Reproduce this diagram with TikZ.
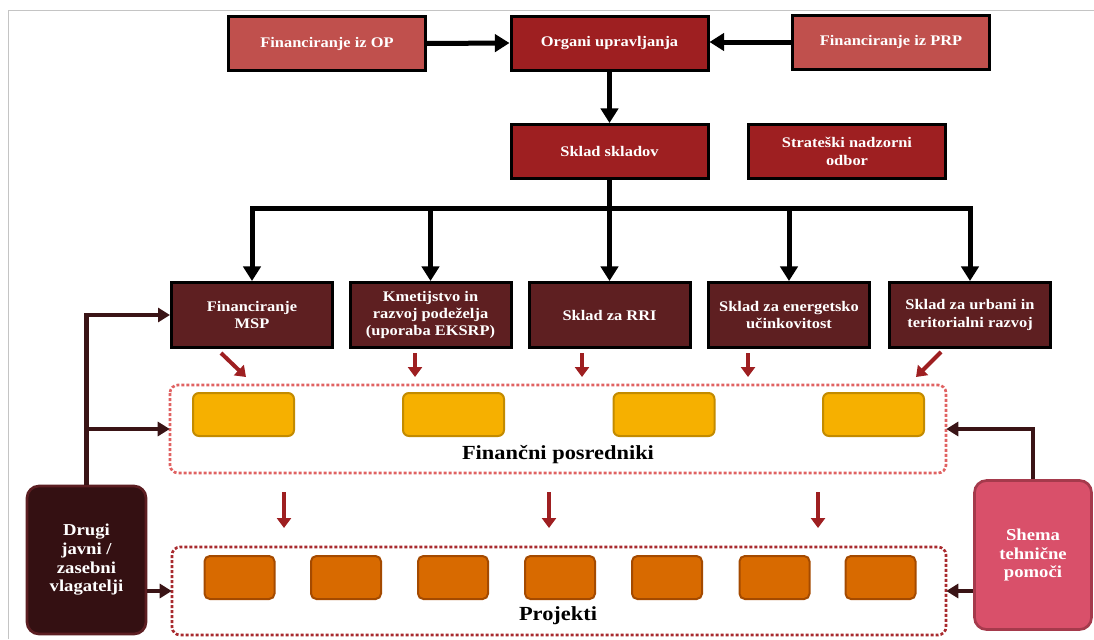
\documentclass[tikz,border=0pt]{standalone}
\usepackage{fontspec}
\setmainfont{Liberation Serif}[FakeStretch=1.12]
\usetikzlibrary{arrows.meta}
\definecolor{fund}{HTML}{C0504D}
\definecolor{mgmt}{HTML}{9E1F21}
\definecolor{fundb}{HTML}{5E1F21}
\definecolor{yel}{HTML}{F6B000}
\definecolor{yelb}{HTML}{C38B00}
\definecolor{ora}{HTML}{D86A00}
\definecolor{orab}{HTML}{A44A00}
\definecolor{inv}{HTML}{341012}
\definecolor{invb}{HTML}{5C1E22}
\definecolor{tas}{HTML}{D9506A}
\definecolor{tasb}{HTML}{A53A4C}
\definecolor{redarr}{HTML}{9E1F21}
\definecolor{fpline}{HTML}{E06262}
\definecolor{prline}{HTML}{A82A2E}
\definecolor{conn}{HTML}{3A1416}
\definecolor{frame}{HTML}{C4C4C4}
\newcommand\pxu[1]{#1*0.75pt}
\newcommand\boxfont{\fontsize{11}{13}\selectfont\bfseries}
\newcommand\sidefont{\fontsize{12.5}{14}\selectfont\bfseries}
\newcommand\labfont{\fontsize{15}{17}\selectfont\bfseries}
\begin{document}
\begin{tikzpicture}[x=0.75pt,y=-0.75pt,
  box/.style={draw=black, line width=2.25pt, text=white, font=\boxfont, align=center, inner sep=0pt},
  topbox/.style={box, minimum width=\pxu{197}, minimum height=\pxu{54}},
  midbox/.style={box, fill=fundb, minimum width=\pxu{161}, minimum height=\pxu{65}},
  ybox/.style={draw=yelb, fill=yel, line width=1.5pt, rounded corners=4.5pt, minimum width=\pxu{101}, minimum height=\pxu{43}},
  obox/.style={draw=orab, fill=ora, line width=1.5pt, rounded corners=4pt, minimum width=\pxu{70}, minimum height=\pxu{43}},
  container/.style={line width=2pt, dash pattern=on 2.25pt off 1.5pt, rounded corners=6pt},
  barrow/.style={line width=3.75pt, draw=black, -{Triangle[width=13pt,length=11pt]}},
  bline/.style={line width=3.75pt, draw=black},
  rarrow/.style={line width=3pt, draw=redarr, -{Triangle[width=10.5pt,length=7.5pt]}},
  carrow/.style={line width=3.2pt, draw=conn, -{Triangle[width=10.5pt,length=9pt]}},
  sidebox/.style={line width=2pt, text=white, font=\sidefont, align=center, inner sep=0pt, rounded corners=9pt},
  lab/.style={font=\labfont, text=black, inner sep=0pt}
]
\useasboundingbox (0,0) rectangle (1094,639);
% frame
\draw[frame, line width=0.75pt] (8,639) -- (8,10) -- (1094,10);

% top row
\node[topbox, fill=fund] (fop) at (327,43.5) {Financiranje iz OP};
\node[topbox, fill=mgmt] (org) at (609.5,43) {Organi upravljanja};
\node[topbox, fill=fund] (fprp) at (891,42) {Financiranje iz PRP};
% second row
\node[topbox, fill=mgmt] (sks) at (609.5,151.5) {Sklad skladov};
\node[topbox, fill=mgmt] (snd) at (847,151.5) {Strateški nadzorni\\odbor};
% third row
\node[midbox] (b1) at (252,315) {Financiranje\\MSP};
\node[midbox] (b2) at (430.5,315) {Kmetijstvo in\\razvoj podeželja\\(uporaba EKSRP)};
\node[midbox] (b3) at (609.5,315) {Sklad za RRI};
\node[midbox] (b4) at (789,315) {Sklad za energetsko\\učinkovitost};
\node[midbox] (b5) at (970,315) {Sklad za urbani in\\teritorialni razvoj};

% top arrows
\draw[barrow] (fop.east) -- (org.west);
\draw[barrow] (fprp.west) -- (org.east |- fprp.west);
\draw[barrow] (org.south) -- (sks.north);
% bus
\coordinate (busy) at (0,208);
\draw[bline] (sks.south) -- (sks.south |- busy);
\draw[bline, line cap=rect] (b1.north |- busy) -- (b5.north |- busy);
\foreach \b in {b1,b2,b3,b4,b5}{
  \draw[barrow] (\b.north |- busy) -- (\b.north);
}

% containers
\draw[container, draw=fpline] (170,385) rectangle (946,473);
\node (fp) at (558,429) [minimum width=\pxu{776}, minimum height=\pxu{88}, inner sep=0pt] {};
\node[lab] (fplab) at (558,455) {Finančni posredniki};
\draw[container, draw=prline] (172,547) rectangle (946,635);
\node (pr) at (559,591) [minimum width=\pxu{774}, minimum height=\pxu{88}, inner sep=0pt] {};
\node[lab] (prlab) at (558,616) {Projekti};

% intermediaries
\foreach \x [count=\i] in {243.5,453.5,664,873.5}{
  \node[ybox] (y\i) at (\x,414.5) {};
}
% projects
\foreach \x [count=\i] in {239.5,346,453,560,667,774.5,880.5}{
  \node[obox] (o\i) at (\x,577.5) {};
}

% red arrows to intermediaries
\coordinate (r1a) at (221,353); \coordinate (r1b) at (246,377);
\coordinate (r2a) at (415,353); \coordinate (r2b) at (415,377);
\coordinate (r3a) at (582,353); \coordinate (r3b) at (582,377);
\coordinate (r4a) at (748,353); \coordinate (r4b) at (748,377);
\coordinate (r5a) at (941,352); \coordinate (r5b) at (916,377);
\foreach \i in {1,...,5}{ \draw[rarrow] (r\i a) -- (r\i b); }
% red arrows to projects
\coordinate (p1a) at (284,492); \coordinate (p1b) at (284,528);
\coordinate (p2a) at (549,492); \coordinate (p2b) at (549,528);
\coordinate (p3a) at (818,492); \coordinate (p3b) at (818,528);
\foreach \i in {1,2,3}{ \draw[rarrow] (p\i a) -- (p\i b); }

% side boxes
\node[sidebox, draw=invb, fill=inv, minimum width=\pxu{119}, minimum height=\pxu{148}] (drugi) at (86.5,560) {Drugi\\javni /\\zasebni\\vlagatelji};
\node[sidebox, draw=tasb, fill=tas, minimum width=\pxu{117}, minimum height=\pxu{149}] (shema) at (1033,555) {Shema\\tehnične\\pomoči};

% side connectors
\draw[carrow] (drugi.north) |- (b1.west);
\draw[carrow] (drugi.north |- fp.west) -- (fp.west);
\draw[carrow] (drugi.east |- pr.west) -- (pr.west);
\draw[carrow] (shema.north) |- (fp.east);
\draw[carrow] (shema.west |- pr.east) -- (pr.east);
\end{tikzpicture}
\end{document}
